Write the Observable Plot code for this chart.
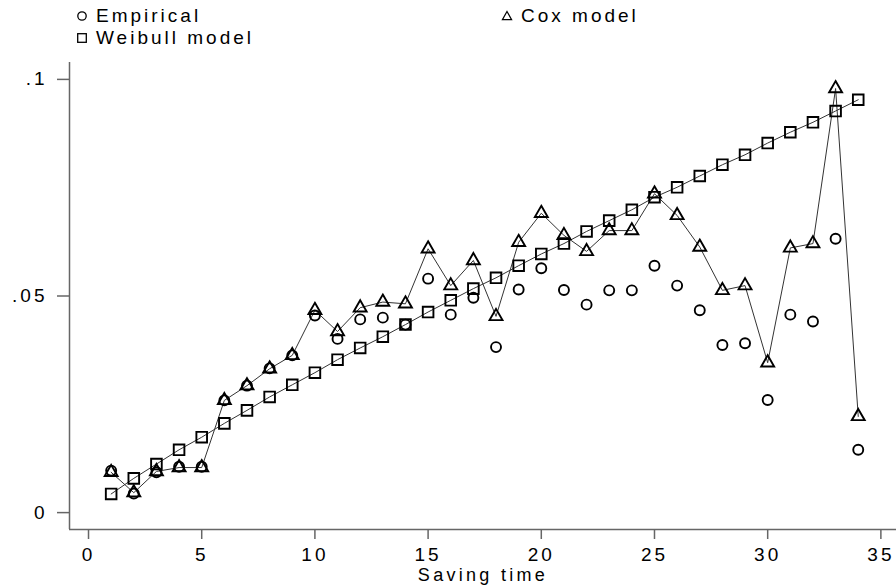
<!DOCTYPE html>
<html>
<head>
<meta charset="utf-8">
<script src="https://cdn.jsdelivr.net/npm/d3@7"></script>
<script src="https://cdn.jsdelivr.net/npm/@observablehq/plot@0.6"></script>
<style>
  html, body { margin: 0; padding: 0; background: #fff; }
  #wrap { position: relative; width: 896px; height: 588px; font-family: "Liberation Sans", Arial, sans-serif; }
  #legend { position: relative; width: 896px; height: 50px; }
  .li { position: absolute; display: flex; align-items: center; font-size: 19px; letter-spacing: 3px; color: #000; line-height: 22px; }
  .li svg { margin-right: 8px; }
  #chart svg { display: block; }
  #chart svg text { letter-spacing: 3px; }
  #chart svg g[aria-label="x-axis label"] text { font-size: 18px; letter-spacing: 3.3px; }
</style>
</head>
<body>
<div id="wrap">
  <div id="legend"></div>
  <div id="chart"></div>
</div>
<script>
// Saving time (x)
const times = [1,2,3,4,5,6,7,8,9,10,11,12,13,14,15,16,17,18,19,20,21,22,23,24,25,26,27,28,29,30,31,32,33,34];
// Empirical hazard
const empirical = [0.0097,0.0044,0.0093,0.0106,0.0106,0.0259,0.0293,0.0333,0.0363,0.0455,0.0401,0.0446,0.0450,0.0434,0.0540,0.0457,0.0496,0.0382,0.0515,0.0564,0.0514,0.0480,0.0513,0.0513,0.0570,0.0524,0.0467,0.0387,0.0391,0.0260,0.0457,0.0441,0.0632,0.0145];
// Cox model
const cox = [0.0093,0.0046,0.0095,0.0104,0.0104,0.0259,0.0293,0.0332,0.0363,0.0467,0.0418,0.0473,0.0486,0.0482,0.0609,0.0524,0.0582,0.0453,0.0624,0.0691,0.0640,0.0603,0.0651,0.0651,0.0736,0.0686,0.0613,0.0513,0.0524,0.0346,0.0611,0.0621,0.0979,0.0222];
// Weibull model
const weibull = [0.0043,0.0079,0.0112,0.0145,0.0174,0.0206,0.0236,0.0267,0.0295,0.0323,0.0353,0.0380,0.0406,0.0434,0.0463,0.0490,0.0517,0.0542,0.0570,0.0597,0.0621,0.0649,0.0674,0.0699,0.0728,0.0751,0.0777,0.0803,0.0826,0.0853,0.0878,0.0901,0.0927,0.0953];
// Axis ticks
const xTicks = [0,5,10,15,20,25,30,35];
const yTicks = [0,0.05,0.1];
const yTickLabels = ["0",".05",".1"];
const seriesNames = ["Empirical","Cox model","Weibull model"];

const xDomain = [-0.84, 35.69];
const yDomain = [-0.0039, 0.1039];

const emp = times.map((t,i)=>({t, v: empirical[i]}));
const cx = times.map((t,i)=>({t, v: cox[i]}));
const wb = times.map((t,i)=>({t, v: weibull[i]}));

const ink = "#000";
const lineCol = "#333";
const axisCol = "#666";

const chart = Plot.plot({
  width: 896,
  height: 538,
  marginLeft: 69,
  marginRight: 0,
  marginTop: 12,
  marginBottom: 59,
  style: { fontFamily: "Liberation Sans, Arial, sans-serif", fontSize: "19px", color: "#000", background: "#fff" },
  x: { domain: xDomain },
  y: { domain: yDomain },
  marks: [
    Plot.axisX({ticks: xTicks, tickSize: 10, tickPadding: 8, stroke: axisCol, strokeWidth: 1.5, fontSize: 19, label: "Saving time", labelAnchor: "center", labelArrow: "none", labelOffset: 51}),
    Plot.axisY({ticks: yTicks, tickFormat: (d) => yTickLabels[yTicks.indexOf(d)], tickSize: 12, tickPadding: 10, stroke: axisCol, strokeWidth: 1.5, fontSize: 19, label: null}),
    Plot.ruleX([xDomain[0]], {stroke: axisCol, strokeWidth: 1.5}),
    Plot.ruleY([yDomain[0]], {stroke: axisCol, strokeWidth: 1.5}),
    Plot.line(cx, {x: "t", y: "v", stroke: lineCol, strokeWidth: 1}),
    Plot.line(wb, {x: "t", y: "v", stroke: lineCol, strokeWidth: 1}),
    Plot.dot(emp, {x: "t", y: "v", symbol: "circle", r: 5, stroke: ink, strokeWidth: 1.9, fill: "none"}),
    Plot.dot(cx, {x: "t", y: "v", symbol: "triangle", r: 4.8, stroke: ink, strokeWidth: 1.9, fill: "none"}),
    Plot.dot(wb, {x: "t", y: "v", symbol: "square", r: 6, stroke: ink, strokeWidth: 1.9, fill: "none"})
  ]
});
document.getElementById("chart").appendChild(chart);

// Legend (HTML, above the SVG)
const legend = document.getElementById("legend");
const symSvg = {
  circle: '<svg width="12" height="12" viewBox="-6 -6 12 12"><circle r="4.2" fill="none" stroke="#000" stroke-width="1.3"/></svg>',
  triangle: '<svg width="12" height="12" viewBox="-6 -6 12 12"><path d="M0,-4.5L4.6,3.6L-4.6,3.6Z" fill="none" stroke="#000" stroke-width="1.2"/></svg>',
  square: '<svg width="12" height="12" viewBox="-6 -6 12 12"><rect x="-4.3" y="-4.3" width="8.6" height="8.6" fill="none" stroke="#000" stroke-width="1.3"/></svg>'
};
const legendItems = [
  {name: seriesNames[0], sym: "circle", left: 76, top: 5},
  {name: seriesNames[1], sym: "triangle", left: 501, top: 5},
  {name: seriesNames[2], sym: "square", left: 76, top: 27}
];
for (const it of legendItems) {
  const d = document.createElement("div");
  d.className = "li";
  d.style.left = it.left + "px";
  d.style.top = it.top + "px";
  d.innerHTML = symSvg[it.sym] + "<span>" + it.name + "</span>";
  legend.appendChild(d);
}
</script>
</body>
</html>
